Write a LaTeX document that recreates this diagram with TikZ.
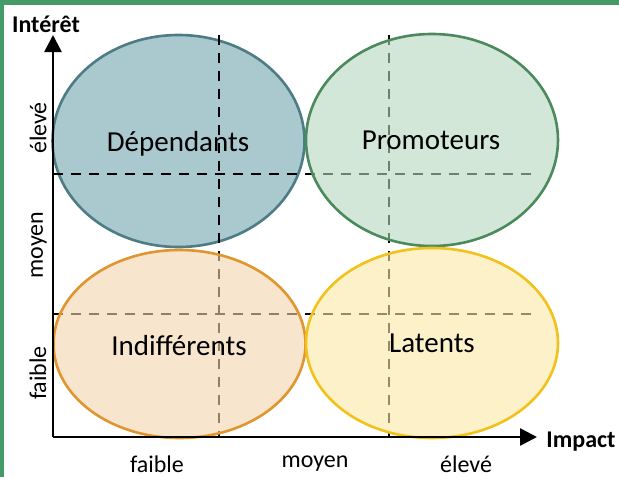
\documentclass[tikz,border=0pt]{standalone}
\usepackage{fontspec}
\setmainfont{Carlito}
\usetikzlibrary{arrows.meta}
\definecolor{frameg}{HTML}{459B68}
\definecolor{bluefill}{HTML}{AAC9CF}
\definecolor{bluedraw}{HTML}{4D7C84}
\definecolor{greenfill}{RGB}{182,215,193}
\definecolor{greendraw}{HTML}{4A8A5C}
\definecolor{orangefill}{RGB}{243,212,172}
\definecolor{orangedraw}{HTML}{E0952E}
\definecolor{yellowfill}{RGB}{250,232,165}
\definecolor{yellowdraw}{HTML}{F2C21B}
\tikzset{
  zone/.style={line width=2.6pt},
  guide/.style={line width=1.2pt, black, dash pattern=on 10pt off 8pt},
  axisline/.style={line width=2.6pt, -{Triangle[length=17pt,width=17pt]}},
  axlabel/.style={font=\fontsize{24}{28}\selectfont\bfseries, inner sep=0pt},
  tick/.style={font=\fontsize{24}{28}\selectfont, inner sep=0pt},
  zonelabel/.style={font=\fontsize{29}{34}\selectfont, inner sep=0pt},
  semi/.style={fill opacity=0.6}
}
\begin{document}
\begin{tikzpicture}[x=1pt,y=-1pt]
\useasboundingbox (0,0) rectangle (619,477);
\fill[white] (0,0) rectangle (619,477);
% frame
\fill[frameg] (0,0) rectangle (619,5);
\fill[frameg] (0,0) rectangle (4,477);
% blue ellipse (opaque, below guides)
\draw[zone, draw=bluedraw, fill=bluefill] (178.5,141) ellipse [x radius=126pt, y radius=106pt];
% axes coordinates
\coordinate (o) at (53,437);
\coordinate (ytop) at (53,35);
\coordinate (xend) at (537,437);
% dashed guides
\coordinate (v1t) at (219,35); \coordinate (v1b) at (219,437);
\coordinate (v2t) at (389,35); \coordinate (v2b) at (389,437);
\coordinate (h1l) at (53,174); \coordinate (h1r) at (531,174);
\coordinate (h2l) at (53,314); \coordinate (h2r) at (531,314);
\draw[guide] (v1t) -- (v1b);
\draw[guide] (v2t) -- (v2b);
\draw[guide] (h1l) -- (h1r);
\draw[guide] (h2l) -- (h2r);
% other ellipses (semi transparent)
\draw[zone, draw=greendraw, fill=greenfill, semi] (432,140) ellipse [x radius=126pt, y radius=106pt];
\draw[zone, draw=orangedraw, fill=orangefill, semi] (179.5,344) ellipse [x radius=126pt, y radius=94pt];
\draw[zone, draw=yellowdraw, fill=yellowfill, semi] (432,343) ellipse [x radius=126pt, y radius=95pt];
% axes
\draw[axisline] (o) -- (ytop);
\draw[axisline] (o) -- (xend);
% labels
\node[axlabel] (intr) at (46,24) {Intérêt};
\node[axlabel] (imp) at (581,442) {Impact};
\node[tick] (xf) at (157,464.5) {faible};
\node[tick] (xm) at (315,464) {moyen};
\node[tick] (xe) at (466,464.5) {élevé};
\node[tick, rotate=90] (yf) at (38,373) {faible};
\node[tick, rotate=90] (ym) at (39,245) {moyen};
\node[tick, rotate=90] (ye) at (38,128) {élevé};
\node[zonelabel] (dep) at (178,144) {Dépendants};
\node[zonelabel] (pro) at (431,140) {Promoteurs};
\node[zonelabel] (ind) at (179,346) {Indifférents};
\node[zonelabel] (lat) at (432,343) {Latents};
\end{tikzpicture}
\end{document}
